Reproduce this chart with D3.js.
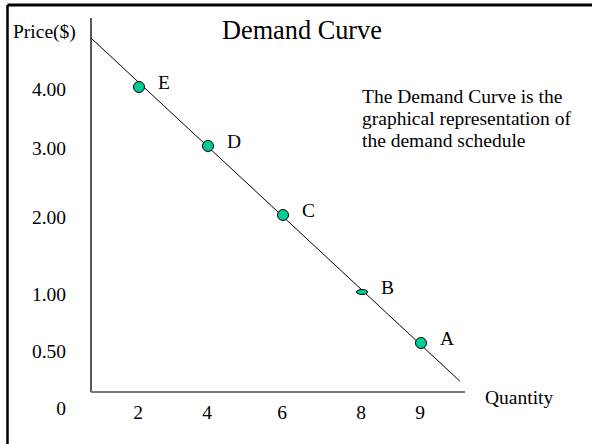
<!DOCTYPE html>
<html>
<head>
<meta charset="utf-8">
<script src="https://cdn.jsdelivr.net/npm/d3@7"></script>
<style>
  body { margin: 0; background: #fff; }
  svg text { font-family: "Liberation Serif", "Times New Roman", serif; fill: #000; }
</style>
</head>
<body>
<div id="graphicContainer"></div>
<script>
// demand schedule
var pointLabels = ["E", "D", "C", "B", "A"];
var quantities = [2, 4, 6, 8, 9];
var prices = [4.00, 3.00, 2.00, 1.00, 0.50];

// ends of the drawn demand line (it runs past the schedule on both sides)
var lineQuantities = [0, 9.66];
var linePrices = [4.83, 0.11];

var priceTicks = [4.00, 3.00, 2.00, 1.00, 0.50];
var quantityTicks = [2, 4, 6, 8, 9];

var width = 592, height = 444;

var svg = d3.select("#graphicContainer").append("svg")
    .attr("width", width)
    .attr("height", height);

// slide frame (only top and left edges are visible)
svg.append("line").attr("x1", 7.5).attr("x2", width).attr("y1", 5).attr("y2", 5)
    .attr("stroke", "#000").attr("stroke-width", 3);
svg.append("line").attr("x1", 7.5).attr("x2", 7.5).attr("y1", 5).attr("y2", height)
    .attr("stroke", "#000").attr("stroke-width", 2.5);

// the hand drawn slide does not space its ticks evenly, so piecewise scales
var x = d3.scaleLinear()
    .domain([0, 2, 4, 6, 8, 9])
    .range([91, 139, 208, 283, 362, 421]);

var y = d3.scaleLinear()
    .domain([0, 0.5, 1, 2, 3, 4])
    .range([392, 343, 292, 215, 146, 87]);

// axes
svg.append("line")
    .attr("x1", x(0)).attr("x2", x(0))
    .attr("y1", 18).attr("y2", y(0))
    .attr("stroke", "#000").attr("stroke-width", 1.3);

svg.append("line")
    .attr("x1", x(0)).attr("x2", 465)
    .attr("y1", y(0)).attr("y2", y(0))
    .attr("stroke", "#777").attr("stroke-width", 2);

// tick labels
svg.append("g").selectAll("text")
    .data(priceTicks)
    .enter().append("text")
    .attr("x", x(0) - 25)
    .attr("y", d => y(d))
    .attr("dy", d => d < 1 ? "0.75em" : "0.45em")
    .attr("text-anchor", "end")
    .style("font-size", "19.5px")
    .text(d => d3.format(".2f")(d));

svg.append("g").selectAll("text")
    .data(quantityTicks)
    .enter().append("text")
    .attr("x", d => x(d) - 1)
    .attr("y", y(0) + 27)
    .attr("text-anchor", "middle")
    .style("font-size", "19.5px")
    .text(d => d);

svg.append("text")
    .attr("x", x(0) - 25)
    .attr("y", y(0) + 23)
    .attr("text-anchor", "end")
    .style("font-size", "19.5px")
    .text("0");

svg.append("text")
    .attr("x", 13).attr("y", 38)
    .style("font-size", "19.5px")
    .text("Price($)");

svg.append("text")
    .attr("x", 485).attr("y", 404)
    .style("font-size", "19.5px")
    .text("Quantity");

svg.append("text")
    .attr("x", 222).attr("y", 39)
    .style("font-size", "26.3px")
    .text("Demand Curve");

var note = ["The Demand Curve is the", "graphical representation of", "the demand schedule"];
svg.append("g").selectAll("text")
    .data(note)
    .enter().append("text")
    .attr("x", 362)
    .attr("y", (d, i) => 102.5 + i * 22)
    .style("font-size", "19.5px")
    .text(d => d);

// demand line
var demand = lineQuantities.map((q, i) => [q, linePrices[i]]);
svg.append("path")
    .datum(demand)
    .attr("fill", "none")
    .attr("stroke", "#000")
    .attr("stroke-width", 1)
    .attr("d", d3.line().x(d => x(d[0])).y(d => y(d[1])));

// schedule points
var schedule = pointLabels.map((l, i) => ({label: l, q: quantities[i], p: prices[i]}));
var squashed = new Set(["B"]);

svg.append("g").selectAll("ellipse")
    .data(schedule)
    .enter().append("ellipse")
    .attr("cx", d => x(d.q))
    .attr("cy", d => y(d.p))
    .attr("rx", 5.5)
    .attr("ry", d => squashed.has(d.label) ? 2.5 : 5.5)
    .attr("fill", "#00cc99")
    .attr("stroke", "#000")
    .attr("stroke-width", 1);

svg.append("g").selectAll("text")
    .data(schedule)
    .enter().append("text")
    .attr("x", d => x(d.q) + 19)
    .attr("y", d => y(d.p))
    .attr("dy", "0.1em")
    .style("font-size", "19.5px")
    .text(d => d.label);
</script>
</body>
</html>
